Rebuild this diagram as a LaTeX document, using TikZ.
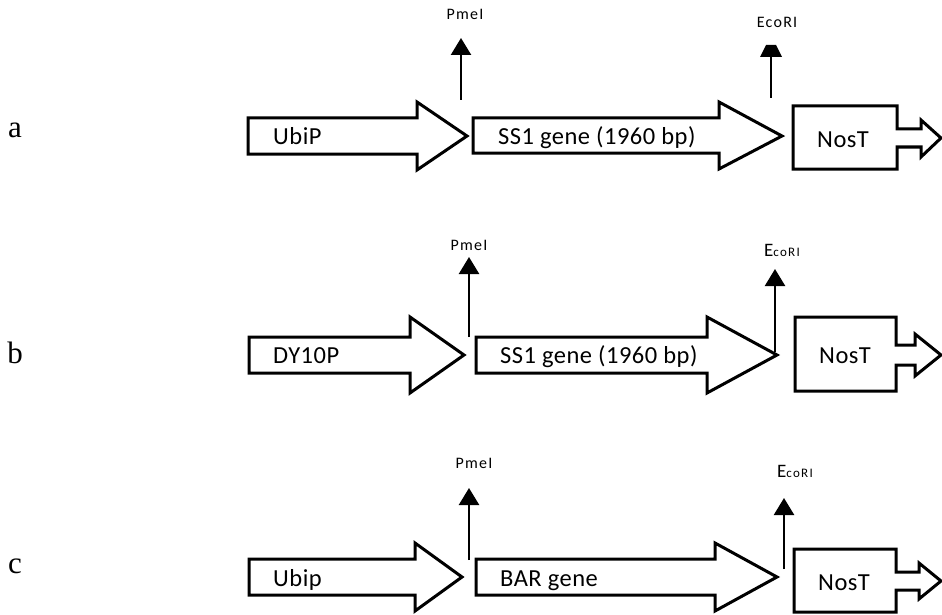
\documentclass[tikz,border=0pt]{standalone}
\usepackage{fontspec}
\setmainfont{Carlito}
\newfontfamily\lblfont{Liberation Serif}
\usetikzlibrary{arrows.meta}
\tikzset{
  part/.style={draw=black, line width=3pt, fill=white, line join=miter, miter limit=20},
  site/.style={line width=2.4pt, -{Triangle[width=20pt,length=17pt]}},
  siteline/.style={line width=2.4pt},
  gtext/.style={anchor=base west, inner sep=0pt, font=\fontsize{24.5}{24.5}\selectfont\addfontfeatures{LetterSpace=2}},
  enz/.style={anchor=base, inner sep=0pt, font=\fontsize{16}{16}\selectfont\addfontfeatures{LetterSpace=8}},
  enzbig/.style={anchor=base, inner sep=0pt, font=\addfontfeatures{LetterSpace=10}},
  rowlbl/.style={anchor=base, inner sep=0pt, font=\lblfont\fontsize{31}{31}\selectfont}
}
\newcommand{\EcoBig}{{\fontsize{19}{19}\selectfont E}{\fontsize{13}{13}\selectfont coRI}}
\begin{document}
\begin{tikzpicture}[x=1pt,y=-1pt]
\useasboundingbox (0,0) rectangle (942,615);

% ---------------- row a ----------------
\node[rowlbl] (la) at (15,138) {a};
\draw[part] (248,118) -- (417,118) -- (417,102) -- (467,136) -- (417,170) -- (417,154) -- (248,154) -- cycle;
\draw[part] (473,118) -- (719,118) -- (719,102) -- (782,136) -- (719,169) -- (719,153) -- (473,153) -- cycle;
\draw[part] (793,106) -- (897,106) -- (897,129) -- (921,129) -- (921,120) -- (941,138) -- (921,157) -- (921,147) -- (897,147) -- (897,169) -- (793,169) -- cycle;
\node[gtext] (ubiA) at (273,145) {UbiP};
\node[gtext] (ssA) at (498,145) {SS1 gene (1960 bp)};
\node[gtext] (nosA) at (817,147) {NosT};
\coordinate (pA0) at (461,100); \coordinate (pA1) at (461,38);
\coordinate (eA0) at (771,98);  \coordinate (eA1) at (771,56);
\draw[site] (pA0) -- (pA1);
\draw[siteline] (eA0) -- (eA1);
\fill (760,57) -- (782,57) -- (776,45) -- (766,45) -- cycle;
\node[enz] (pmeA) at (465,20) {PmeI};
\node[enz] (ecoA) at (777,28) {EcoRI};

% ---------------- row b ----------------
\node[rowlbl] (lb) at (15,363) {b};
\draw[part] (249,337) -- (410,337) -- (410,317) -- (464,355) -- (410,393) -- (410,373) -- (249,373) -- cycle;
\draw[part] (476,337) -- (707,337) -- (707,317) -- (777,355) -- (707,393) -- (707,373) -- (476,373) -- cycle;
\draw[part] (795,317) -- (896,317) -- (896,345) -- (915,345) -- (915,334) -- (941,355) -- (915,376) -- (915,365) -- (896,365) -- (896,391) -- (795,391) -- cycle;
\node[gtext] (dyB) at (273,363) {DY10P};
\node[gtext] (ssB) at (500,363) {SS1 gene (1960 bp)};
\node[gtext] (nosB) at (819,363) {NosT};
\coordinate (pB0) at (469,337); \coordinate (pB1) at (469,257);
\coordinate (eB0) at (775,352); \coordinate (eB1) at (775,269);
\draw[site] (pB0) -- (pB1);
\draw[site] (eB0) -- (eB1);
\node[enz] (pmeB) at (469,250) {PmeI};
\node[enzbig] (ecoB) at (782,256) {\EcoBig};

% ---------------- row c ----------------
\node[rowlbl] (lc) at (15,573) {c};
\draw[part] (249,559) -- (415,559) -- (415,543) -- (462,577) -- (415,611) -- (415,595) -- (249,595) -- cycle;
\draw[part] (476,559) -- (715,559) -- (715,543) -- (777,577) -- (715,611) -- (715,595) -- (476,595) -- cycle;
\draw[part] (794,549) -- (896,549) -- (896,572) -- (919,572) -- (919,563) -- (941,581) -- (919,599) -- (919,590) -- (896,590) -- (896,612) -- (794,612) -- cycle;
\node[gtext] (ubiC) at (273,586) {Ubip};
\node[gtext] (barC) at (500,586) {BAR gene};
\node[gtext] (nosC) at (818,590) {NosT};
\coordinate (pC0) at (469,560); \coordinate (pC1) at (469,488);
\coordinate (eC0) at (784,569); \coordinate (eC1) at (784,498);
\draw[site] (pC0) -- (pC1);
\draw[site] (eC0) -- (eC1);
\node[enz] (pmeC) at (474,468) {PmeI};
\node[enzbig] (ecoC) at (795,477) {\EcoBig};
\end{tikzpicture}
\end{document}
